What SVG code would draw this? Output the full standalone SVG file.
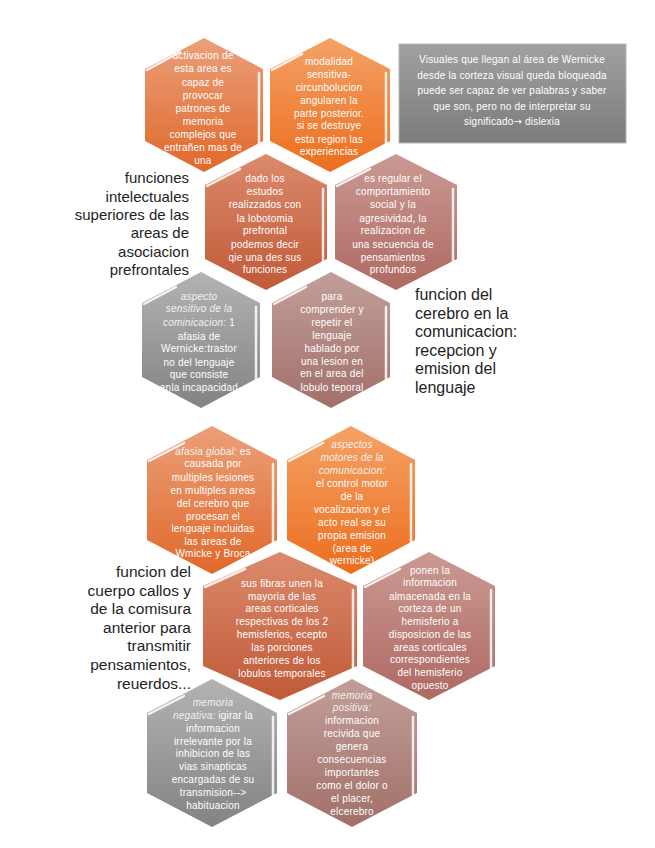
<svg xmlns="http://www.w3.org/2000/svg" width="655" height="848" viewBox="0 0 655 848">
<defs>
<linearGradient id="gOrA" x1="0" y1="0" x2="0" y2="1"><stop offset="0" stop-color="#EBA07A"/><stop offset="1" stop-color="#E0682A"/></linearGradient>
<linearGradient id="gOrB" x1="0" y1="0" x2="0" y2="1"><stop offset="0" stop-color="#F4A266"/><stop offset="1" stop-color="#EC6E1E"/></linearGradient>
<linearGradient id="gRust" x1="0" y1="0" x2="0" y2="1"><stop offset="0" stop-color="#DB8A6C"/><stop offset="1" stop-color="#C05A38"/></linearGradient>
<linearGradient id="gRose" x1="0" y1="0" x2="0" y2="1"><stop offset="0" stop-color="#CA9A93"/><stop offset="1" stop-color="#AE6962"/></linearGradient>
<linearGradient id="gGray" x1="0" y1="0" x2="0" y2="1"><stop offset="0" stop-color="#B3B3B3"/><stop offset="1" stop-color="#838383"/></linearGradient>
<linearGradient id="gMauve" x1="0" y1="0" x2="0" y2="1"><stop offset="0" stop-color="#C29E99"/><stop offset="1" stop-color="#A2706A"/></linearGradient>
<linearGradient id="gBox" x1="0" y1="0" x2="0" y2="1"><stop offset="0" stop-color="#A0A0A0"/><stop offset="1" stop-color="#7C7C7C"/></linearGradient>
</defs>
<style>
.ht{font-family:"Liberation Sans",Arial,sans-serif;font-size:10px;fill:#fff;text-anchor:middle;letter-spacing:0.2px}
.it{font-style:italic;fill:#F4F0EE}
.ar{font-family:"DejaVu Sans",sans-serif}
.lb{font-family:"Liberation Sans",Arial,sans-serif;fill:#1E1E1E}
.hl{stroke:#fff;stroke-width:2.5;stroke-linecap:round;fill:none;opacity:.85}
</style>

<g id="connectors"/>

<g id="box-wernicke">
<rect x="399" y="44" width="227" height="99" fill="url(#gBox)" stroke="#B5B5B5" stroke-width="1"/>
<text class="ht" x="512" y="63">Visuales que llegan al área de Wernicke</text>
<text class="ht" x="512" y="78.5">desde la corteza visual queda bloqueada</text>
<text class="ht" x="512" y="94">puede ser capaz de ver palabras  y saber</text>
<text class="ht" x="512" y="109.5">que son, pero no de interpretar su</text>
<text class="ht" x="512" y="125">significado<tspan class="ar">→</tspan> dislexia</text>
</g>

<g id="hex1">
<polygon points="204,38 263,69 263,141 204,172 145,141 145,69" fill="url(#gOrA)"/>
<path class="hl" d="M147,70 L180,52 M259,73 L259,143"/>
<text class="ht" x="203" y="59">activacion de</text>
<text class="ht" x="203" y="72">esta area es</text>
<text class="ht" x="203" y="85.5">capaz de</text>
<text class="ht" x="203" y="99">provocar</text>
<text class="ht" x="203" y="112">patrones de</text>
<text class="ht" x="203" y="125">memoria</text>
<text class="ht" x="203" y="138">complejos que</text>
<text class="ht" x="203" y="151">entrañen mas de</text>
<text class="ht" x="203" y="164">una</text>
</g>

<g id="hex2">
<polygon points="330,38 390,69 390,141 330,172 270,141 270,69" fill="url(#gOrB)"/>
<path class="hl" d="M272,70 L302,54 M386,73 L386,150"/>
<text class="ht" x="329" y="65">modalidad</text>
<text class="ht" x="329" y="78">sensitiva-</text>
<text class="ht" x="329" y="91">circunbolucion</text>
<text class="ht" x="329" y="103.5">angularen la</text>
<text class="ht" x="329" y="117">parte posterior.</text>
<text class="ht" x="329" y="129">si se destruye</text>
<text class="ht" x="329" y="142.5">esta region las</text>
<text class="ht" x="329" y="155">experiencias</text>
</g>

<g id="hex3">
<polygon points="266,154 327,185 327,259 266,290 205,259 205,185" fill="url(#gRust)"/>
<path class="hl" d="M207,186 L240,169 M323,189 L323,262"/>
<text class="ht" x="265" y="181.5">dado los</text>
<text class="ht" x="265" y="195">estudos</text>
<text class="ht" x="265" y="207.5">realizzados con</text>
<text class="ht" x="265" y="221.5">la lobotomia</text>
<text class="ht" x="265" y="234">prefrontal</text>
<text class="ht" x="265" y="247.5">podemos decir</text>
<text class="ht" x="265" y="261">qie una des sus</text>
<text class="ht" x="265" y="273">funciones</text>
</g>

<g id="hex4">
<polygon points="396,154 457,185 457,259 396,290 335,259 335,185" fill="url(#gRose)"/>
<path class="hl" d="M337,186 L370,169 M453,189 L453,262"/>
<text class="ht" x="393" y="181.5">es regular el</text>
<text class="ht" x="393" y="195">comportamiento</text>
<text class="ht" x="393" y="207.5">social y la</text>
<text class="ht" x="393" y="221.5">agresividad, la</text>
<text class="ht" x="393" y="234">realizacion de</text>
<text class="ht" x="393" y="247.5">una secuencia de</text>
<text class="ht" x="393" y="261">pensamientos</text>
<text class="ht" x="393" y="273">profundos</text>
</g>

<g id="hex5">
<polygon points="201,272 260,303 260,377 201,408 142,377 142,303" fill="url(#gGray)"/>
<path class="hl" d="M144,304 L176,287 M256,307 L256,380"/>
<text class="ht it" x="199" y="299.5">aspecto</text>
<text class="ht it" x="199" y="312">sensitivo de la</text>
<text class="ht" x="199" y="325.5"><tspan class="it">cominicacion:</tspan> 1</text>
<text class="ht" x="199" y="339.5">afasia de</text>
<text class="ht" x="199" y="351.5">Wernicke:trastor</text>
<text class="ht" x="199" y="365.5">no del lenguaje</text>
<text class="ht" x="199" y="378">que consiste</text>
<text class="ht" x="199" y="390.5">enla incapacidad</text>
</g>

<g id="hex6">
<polygon points="331,272 390,303 390,377 331,408 272,377 272,303" fill="url(#gMauve)"/>
<path class="hl" d="M274,304 L306,287 M386,307 L386,380"/>
<text class="ht" x="332" y="299.5">para</text>
<text class="ht" x="332" y="312.5">comprender y</text>
<text class="ht" x="332" y="325.5">repetir el</text>
<text class="ht" x="332" y="338.5">lenguaje</text>
<text class="ht" x="332" y="351.5">hablado por</text>
<text class="ht" x="332" y="364.5">una lesion en</text>
<text class="ht" x="332" y="377">en el  area del</text>
<text class="ht" x="332" y="390.5">lobulo teporal</text>
</g>

<g id="label-intelectuales" class="lb" font-size="15" text-anchor="end">
<text x="189" y="183">funciones</text>
<text x="189" y="201.5">intelectuales</text>
<text x="189" y="220">superiores de las</text>
<text x="189" y="238">areas de</text>
<text x="189" y="256.5">asociacion</text>
<text x="189" y="275">prefrontales</text>
</g>

<g id="label-comunicacion" class="lb" font-size="16">
<text x="415" y="300">funcion del</text>
<text x="415" y="318.5">cerebro en la</text>
<text x="415" y="337">comunicacion:</text>
<text x="415" y="355.5">recepcion y</text>
<text x="415" y="374">emision del</text>
<text x="415" y="392.5">lenguaje</text>
</g>

<g id="hex7">
<polygon points="212,426 277,460 277,540 212,574 147,540 147,460" fill="url(#gOrA)"/>
<path class="hl" d="M149,461 L184,443 M273,464 L273,545"/>
<text class="ht" x="213" y="454.5"><tspan class="it">afasia global:</tspan> es</text>
<text class="ht" x="213" y="467">causada por</text>
<text class="ht" x="213" y="480.5">multiples lesiones</text>
<text class="ht" x="213" y="493.5">en multiples areas</text>
<text class="ht" x="213" y="506.5">del cerebro que</text>
<text class="ht" x="213" y="519.5">procesan el</text>
<text class="ht" x="213" y="532">lenguaje incluidas</text>
<text class="ht" x="213" y="544.5">las areas de</text>
<text class="ht" x="213" y="557">Wmicke y Broca</text>
</g>

<g id="hex8">
<polygon points="351,426 415,460 415,540 351,574 287,540 287,460" fill="url(#gOrB)"/>
<path class="hl" d="M289,461 L323,443 M411,464 L411,545"/>
<text class="ht it" x="352" y="447.5">aspectos</text>
<text class="ht it" x="352" y="460.5">motores de la</text>
<text class="ht it" x="352" y="473.5">comunicacion:</text>
<text class="ht" x="352" y="486.5">el control motor</text>
<text class="ht" x="352" y="500">de la</text>
<text class="ht" x="352" y="513">vocalizacion y el</text>
<text class="ht" x="352" y="526">acto real se su</text>
<text class="ht" x="352" y="539">propia emision</text>
<text class="ht" x="352" y="551.5">(area de</text>
<text class="ht" x="352" y="564">wernicke)</text>
</g>

<g id="hex9">
<polygon points="280,552 357,586 357,666 280,700 203,666 203,586" fill="url(#gRust)"/>
<path class="hl" d="M205,587 L245,569 M353,590 L353,670"/>
<text class="ht" x="282" y="586.5">sus fibras unen la</text>
<text class="ht" x="282" y="599.5">mayoria de las</text>
<text class="ht" x="282" y="612">areas  corticales</text>
<text class="ht" x="282" y="625">respectivas de los 2</text>
<text class="ht" x="282" y="638">hemisferios, ecepto</text>
<text class="ht" x="282" y="651">las porciones</text>
<text class="ht" x="282" y="664">anteriores de los</text>
<text class="ht" x="282" y="676.5">lobulos temporales</text>
</g>

<g id="hex10">
<polygon points="429,552 495,586 495,666 429,700 363,666 363,586" fill="url(#gRose)"/>
<path class="hl" d="M365,587 L400,569 M491,590 L491,670"/>
<text class="ht" x="430" y="573.5">ponen la</text>
<text class="ht" x="430" y="586">informacion</text>
<text class="ht" x="430" y="599.5">almacenada en la</text>
<text class="ht" x="430" y="612">corteza de un</text>
<text class="ht" x="430" y="625">hemisferio a</text>
<text class="ht" x="430" y="638">disposicion de las</text>
<text class="ht" x="430" y="650.5">areas corticales</text>
<text class="ht" x="430" y="663">correspondientes</text>
<text class="ht" x="430" y="676">del hemisferio</text>
<text class="ht" x="430" y="689">opuesto</text>
</g>

<g id="label-cuerpo-calloso" class="lb" font-size="15.5" text-anchor="end">
<text x="191" y="577">funcion del</text>
<text x="191" y="595.5">cuerpo callos y</text>
<text x="191" y="614">de la comisura</text>
<text x="191" y="632.5">anterior para</text>
<text x="191" y="651">transmitir</text>
<text x="191" y="670">pensamientos,</text>
<text x="191" y="688.5">reuerdos...</text>
</g>

<g id="hex11">
<polygon points="212,679 277,713 277,793 212,827 147,793 147,713" fill="url(#gGray)"/>
<path class="hl" d="M149,714 L184,696 M273,717 L273,798"/>
<text class="ht it" x="213" y="705.5">memoria</text>
<text class="ht" x="213" y="718.5"><tspan class="it">negativa:</tspan> igirar la</text>
<text class="ht" x="213" y="731.5">informacion</text>
<text class="ht" x="213" y="744.5">irrelevante por la</text>
<text class="ht" x="213" y="757">inhibicion de las</text>
<text class="ht" x="213" y="770">vias sinapticas</text>
<text class="ht" x="213" y="783">encargadas de su</text>
<text class="ht" x="213" y="795.5">transmision--&gt;</text>
<text class="ht" x="213" y="808.5">habituacion</text>
</g>

<g id="hex12">
<polygon points="352,679 417,713 417,793 352,827 287,793 287,713" fill="url(#gMauve)"/>
<path class="hl" d="M289,714 L324,696 M413,717 L413,798"/>
<text class="ht it" x="352" y="698.5">memoria</text>
<text class="ht it" x="352" y="711">positiva:</text>
<text class="ht" x="352" y="724">informacion</text>
<text class="ht" x="352" y="737">recivida que</text>
<text class="ht" x="352" y="750">genera</text>
<text class="ht" x="352" y="763">consecuencias</text>
<text class="ht" x="352" y="776">importantes</text>
<text class="ht" x="352" y="789">como el dolor o</text>
<text class="ht" x="352" y="801.5">el placer,</text>
<text class="ht" x="352" y="814.5">elcerebro</text>
</g>
</svg>
